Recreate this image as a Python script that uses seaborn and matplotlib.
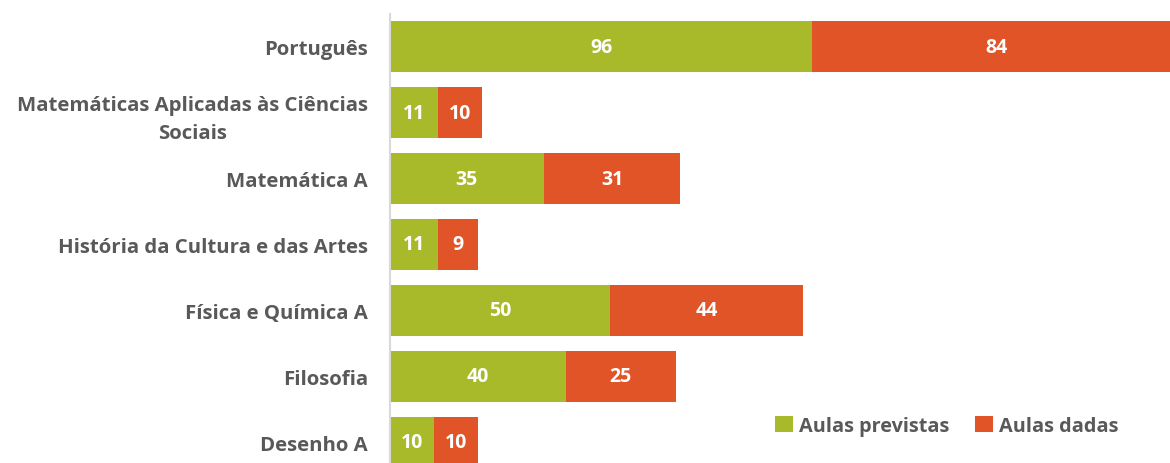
import matplotlib
matplotlib.use("Agg")
import matplotlib.pyplot as plt
import seaborn as sns
import pandas as pd
from matplotlib.patches import Patch

categorias = ["Português", "Matemáticas Aplicadas às Ciências\nSociais", "Matemática A",
              "História da Cultura e das Artes", "Física e Química A", "Filosofia", "Desenho A"]
aulas_previstas = [96, 11, 35, 11, 50, 40, 10]
aulas_dadas = [84, 10, 31, 9, 44, 25, 10]

GREEN = "#A8B92A"
RED = "#E15428"
GRAY = "#595959"

sns.set_theme(style="white")
plt.rcParams["font.family"] = ["Open Sans", "DejaVu Sans"]

df = pd.DataFrame({"cat": categorias, "prev": aulas_previstas, "dadas": aulas_dadas})
df["total"] = df["prev"] + df["dadas"]

fig = plt.figure(figsize=(11.7, 4.64), dpi=100)
H = 464.0
top_px, bot_px = 14.5, 476.5
ax = fig.add_axes([390 / 1170, (H - bot_px) / H, 780 / 1170, (bot_px - top_px) / H])

sns.barplot(data=df, y="cat", x="total", color=RED, orient="h", width=0.77, ax=ax,
            saturation=1, linewidth=0)
sns.barplot(data=df, y="cat", x="prev", color=GREEN, orient="h", width=0.77, ax=ax,
            saturation=1, linewidth=0)

ax.set_xlim(0, 780 / 4.396)
ax.set_ylim(6.5, -0.5)
ax.set_xlabel("")
ax.set_ylabel("")
ax.set_xticks([])
for s in ["top", "right", "bottom"]:
    ax.spines[s].set_visible(False)
ax.spines["left"].set_color("#D9D9D9")
ax.spines["left"].set_linewidth(1.5)
ax.tick_params(axis="y", length=0, pad=16)
for lab in ax.get_yticklabels():
    lab.set_fontsize(14.7)
    lab.set_fontweight("bold")
    lab.set_color(GRAY)
    lab.set_horizontalalignment("right")
    lab.set_multialignment("center")
    lab.set_linespacing(1.5)

for i, (p, d) in enumerate(zip(aulas_previstas, aulas_dadas)):
    ax.text(p / 2, i, str(p), ha="center", va="center", color="white",
            fontsize=14, fontweight="bold")
    ax.text(p + d / 2, i, str(d), ha="center", va="center", color="white",
            fontsize=14, fontweight="bold")

handles = [Patch(facecolor=GREEN, edgecolor="none", label="Aulas previstas"),
           Patch(facecolor=RED, edgecolor="none", label="Aulas dadas")]
leg = fig.legend(handles=handles, loc="center", bbox_to_anchor=(947 / 1170, 1 - 427 / H),
                 ncol=2, frameon=False, fontsize=14.3, handlelength=0.9, handleheight=0.9,
                 handletextpad=0.3, columnspacing=1.3)
for t in leg.get_texts():
    t.set_color(GRAY)
    t.set_fontweight("bold")

fig.savefig("out.png", dpi=100)
